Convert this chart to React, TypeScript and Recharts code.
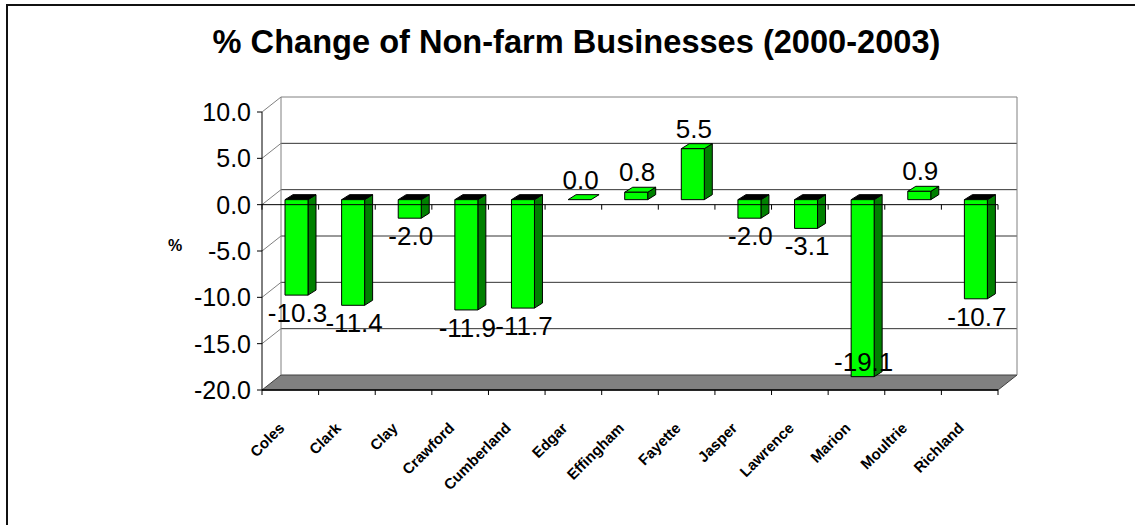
import React from 'react';
import { Bar, BarChart, CartesianGrid, LabelList, ReferenceLine, XAxis, YAxis } from 'recharts';

// county names along the category axis
const counties = [
  'Coles', 'Clark', 'Clay', 'Crawford', 'Cumberland', 'Edgar', 'Effingham',
  'Fayette', 'Jasper', 'Lawrence', 'Marion', 'Moultrie', 'Richland',
];
// % change in non-farm businesses, 2000-2003
const pctChange = [-10.3, -11.4, -2.0, -11.9, -11.7, 0.0, 0.8, 5.5, -2.0, -3.1, -19.1, 0.9, -10.7];
const yTicks = [-20, -15, -10, -5, 0, 5, 10];

const data = counties.map((name, i) => ({ name, value: pctChange[i] }));

const FONT = '"Liberation Sans", Arial, Helvetica, sans-serif';

// oblique offsets used to fake Excel's 3-D look
const WALL_DX = 19;
const WALL_DY = -15;
const BAR_DX = 6;
const BAR_DY = -5;
const DEPTH_DX = 8;
const DEPTH_DY = -5;

// back wall, side wall and floor, drawn off the grid's horizontal lines
function WallLine(props: any) {
  const { x1, y1, x2, y, height } = props;
  const isTop = Math.abs(y1 - y) < 1;
  const isBottom = Math.abs(y1 - (y + height)) < 1;
  const diag = (
    <line x1={x1} y1={y1} x2={x1 + WALL_DX} y2={y1 + WALL_DY} stroke="#808080" strokeWidth={1} />
  );
  if (isBottom) {
    const pts = [
      [x1, y1],
      [x2, y1],
      [x2 + WALL_DX, y1 + WALL_DY],
      [x1 + WALL_DX, y1 + WALL_DY],
    ]
      .map((p) => p.join(','))
      .join(' ');
    return (
      <g key={`wall-${props.index}`}>
        <polygon points={pts} fill="#808080" stroke="#404040" strokeWidth={1} />
      </g>
    );
  }
  if (isTop) {
    return (
      <g key={`wall-${props.index}`}>
        <line x1={x1 + WALL_DX} y1={y1 + WALL_DY} x2={x2 + WALL_DX} y2={y1 + WALL_DY} stroke="#808080" />
        <line x1={x1 + WALL_DX} y1={y1 + WALL_DY} x2={x1 + WALL_DX} y2={y1 + height + WALL_DY} stroke="#808080" />
        <line x1={x2 + WALL_DX} y1={y1 + WALL_DY} x2={x2 + WALL_DX} y2={y1 + height + WALL_DY} stroke="#808080" />
        {diag}
      </g>
    );
  }
  return (
    <g key={`wall-${props.index}`}>
      <line x1={x1 + WALL_DX} y1={y1 + WALL_DY} x2={x2 + WALL_DX} y2={y1 + WALL_DY} stroke="#333" />
      {diag}
    </g>
  );
}

function Bar3D(props: any) {
  const { x, y, width, height } = props;
  const v = props.payload?.value ?? 0;
  const y0 = Math.min(y, y + height);
  const y1 = Math.max(y, y + height);
  const left = x + BAR_DX;
  const right = x + width + BAR_DX;
  const top = y0 + BAR_DY;
  const bot = y1 + BAR_DY;
  const flat = Math.abs(y1 - y0) < 0.5;
  const pts = (arr: number[][]) => arr.map((p) => p.join(',')).join(' ');
  return (
    <g stroke="#000" strokeWidth={1} strokeLinejoin="round">
      {!flat && (
        <polygon
          points={pts([[right, top], [right + DEPTH_DX, top + DEPTH_DY], [right + DEPTH_DX, bot + DEPTH_DY], [right, bot]])}
          fill="#008000"
        />
      )}
      <polygon
        points={pts([[left, top], [right, top], [right + DEPTH_DX, top + DEPTH_DY], [left + DEPTH_DX, top + DEPTH_DY]])}
        fill={v < 0 ? '#000' : '#00ff00'}
      />
      {!flat && <rect x={left} y={top} width={width} height={bot - top} fill="#00ff00" />}
    </g>
  );
}

function BarLabel(props: any) {
  const vb = props.viewBox ?? props;
  const { x, y, width, height } = vb;
  const value = Number(props.value);
  const y0 = Math.min(y, y + height);
  const y1 = Math.max(y, y + height);
  const cx = x + width / 2 + BAR_DX + 1;
  let cy: number;
  if (value < 0) {
    cy = y1 + BAR_DY + 18;
    // keep the label inside the plot, like Excel does
    const ppu = (y1 - y0) / Math.abs(value);
    const floorY = y0 + Math.abs(yTicks[0]) * ppu;
    cy = Math.min(cy, floorY + BAR_DY - 23);
  } else {
    cy = y0 + BAR_DY - 20;
  }
  return (
    <text x={cx} y={cy} textAnchor="middle" dominantBaseline="central" fontSize={26} fontFamily={FONT} fill="#000">
      {value.toFixed(1)}
    </text>
  );
}

// line along a value with short ticks at each category boundary
function BoundaryLine(props: any) {
  const { x1, y1, x2 } = props;
  const n = counties.length;
  const step = (x2 - x1) / n;
  return (
    <g>
      <line x1={x1} y1={y1} x2={x2} y2={y1} stroke="#000" strokeWidth={1} />
      {Array.from({ length: n + 1 }, (_, i) => (
        <line key={i} x1={x1 + i * step} y1={y1} x2={x1 + i * step} y2={y1 + 5} stroke="#000" strokeWidth={1} />
      ))}
    </g>
  );
}

function CountyTick(props: any) {
  const { x, y, payload } = props;
  const ax = x - 5;
  const ay = y + 39;
  return (
    <text
      x={ax}
      y={ay}
      textAnchor="end"
      transform={`rotate(-45, ${ax}, ${ay})`}
      fontSize={15}
      fontWeight="bold"
      fontFamily={FONT}
      fill="#000"
    >
      {payload.value}
    </text>
  );
}

export default function App() {
  return (
    <div
      style={{
        position: 'absolute',
        left: 0,
        top: 0,
        width: 1135,
        height: 525,
        overflow: 'hidden',
        background: '#fff',
        fontFamily: FONT,
      }}
    >
      <div
        style={{
          position: 'absolute',
          left: 6,
          top: 4,
          width: 1200,
          height: 600,
          border: '2px solid #111',
        }}
      />
      <div
        style={{
          position: 'absolute',
          left: 9,
          top: 26,
          width: 1135,
          textAlign: 'center',
          fontSize: 32.6,
          lineHeight: '32px',
          fontWeight: 'bold',
          color: '#000',
        }}
      >
        % Change of Non-farm Businesses (2000-2003)
      </div>
      <div style={{ position: 'absolute', left: 0, top: 0 }}>
        <BarChart width={1135} height={525} data={data} margin={{ top: 112, right: 137, bottom: 75, left: 0 }}>
          <CartesianGrid horizontal={WallLine} vertical={false} />
          <XAxis
            dataKey="name"
            interval={0}
            height={60}
            tickSize={0}
            tickMargin={0}
            tickLine={false}
            axisLine={{ stroke: '#000' }}
            tick={CountyTick}
          />
          <YAxis
            type="number"
            domain={[-20, 10]}
            ticks={yTicks}
            interval={0}
            width={262}
            tickFormatter={(v: number) => v.toFixed(1)}
            tick={{ fontSize: 25, fill: '#000', fontFamily: FONT }}
            axisLine={{ stroke: '#000' }}
            tickLine={{ stroke: '#000' }}
            tickSize={5}
            tickMargin={6}
            label={{
              content: (p: any) => (
                <text
                  x={p.viewBox.x + p.viewBox.width - 87}
                  y={p.viewBox.y + p.viewBox.height / 2 - 6}
                  textAnchor="middle"
                  dominantBaseline="central"
                  fontSize={16}
                  fontWeight="bold"
                  fontFamily={FONT}
                  fill="#000"
                >
                  %
                </text>
              ),
            }}
          />
          <Bar dataKey="value" barSize={23} shape={Bar3D} isAnimationActive={false}>
            <LabelList dataKey="value" content={BarLabel} />
          </Bar>
          <ReferenceLine y={0} shape={BoundaryLine} />
          <ReferenceLine y={-20} shape={BoundaryLine} />
        </BarChart>
      </div>
    </div>
  );
}
